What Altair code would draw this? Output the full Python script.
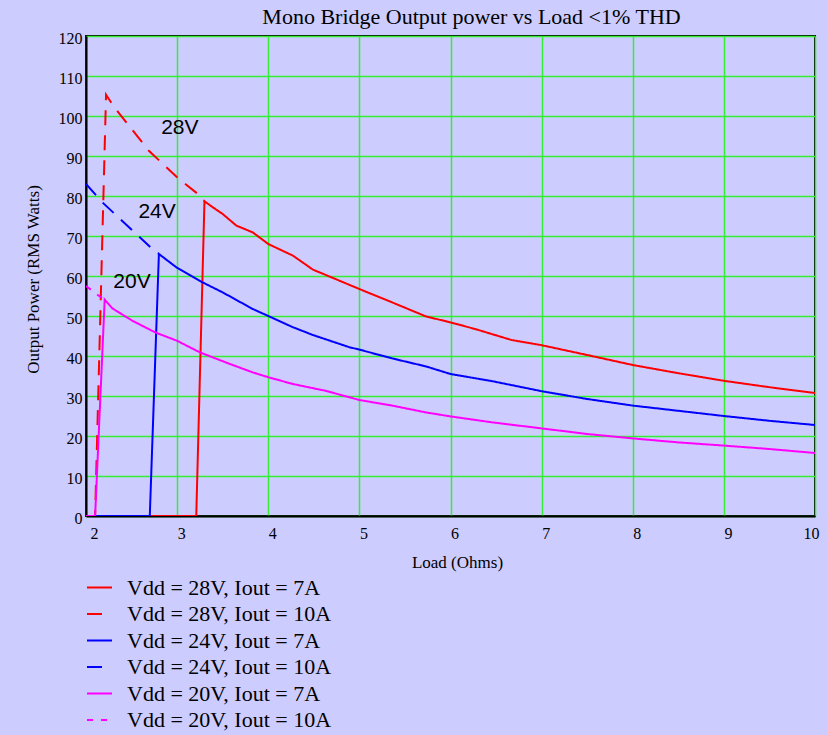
import altair as alt
import pandas as pd
import jinja2

# ---------------- data ----------------
series = [
    "Vdd = 28V, Iout = 7A",
    "Vdd = 28V, Iout = 10A",
    "Vdd = 24V, Iout = 7A",
    "Vdd = 24V, Iout = 10A",
    "Vdd = 20V, Iout = 7A",
    "Vdd = 20V, Iout = 10A",
]
colors = ["#ff0000", "#ff0000", "#0000ff", "#0000ff", "#ff00ff", "#ff00ff"]
dashes = [[1, 0], [15, 10], [1, 0], [15, 10], [1, 0], [6, 8]]

v28_7_x = [2.0, 3.21, 3.30, 3.39, 3.50, 3.65, 3.83, 4.0, 4.27, 4.49, 5.0, 5.36, 5.73, 6.0, 6.27, 6.67, 7.0, 7.5, 8.0, 8.5, 9.0, 9.5, 10.0]
v28_7_y = [0, 0, 78.7, 77.2, 75.5, 72.6, 70.9, 68.0, 65.1, 61.6, 56.75, 53.4, 49.9, 48.4, 46.75, 44.0, 42.7, 40.25, 37.75, 35.7, 33.8, 32.2, 30.75]

v28_10_x = [2.0, 2.10, 2.22, 2.31, 2.69, 3.02, 3.25, 3.30]
v28_10_y = [0, 0, 105.3, 102.2, 91.3, 84.25, 80.1, 78.7]

v24_7_x = [2.0, 2.70, 2.80, 2.99, 3.28, 3.50, 3.83, 4.0, 4.27, 4.49, 4.89, 5.0, 5.36, 5.73, 6.0, 6.46, 7.0, 7.5, 8.0, 8.5, 9.0, 9.5, 10.0]
v24_7_y = [0, 0, 65.5, 62.2, 58.4, 55.9, 51.75, 50.0, 47.2, 45.25, 42.2, 41.6, 39.4, 37.4, 35.5, 33.7, 31.2, 29.25, 27.6, 26.3, 25.0, 23.8, 22.75]

v24_10_x = [2.0, 2.18, 2.75, 2.80]
v24_10_y = [83.0, 78.4, 66.3, 65.5]

v20_7_x = [2.0, 2.10, 2.205, 2.29, 2.51, 2.76, 3.0, 3.25, 3.58, 3.83, 4.0, 4.27, 4.63, 5.0, 5.36, 5.73, 6.0, 6.46, 7.0, 7.5, 8.0, 8.5, 9.0, 9.5, 10.0]
v20_7_y = [0, 0, 54.1, 51.9, 48.8, 45.9, 43.8, 40.9, 38.0, 35.9, 34.7, 33.0, 31.3, 29.0, 27.6, 25.9, 24.9, 23.4, 21.9, 20.5, 19.4, 18.4, 17.6, 16.75, 15.75]

v20_10_x = [2.0, 2.18, 2.205]
v20_10_y = [57.5, 54.4, 54.1]

ann_labels = ["28V", "24V", "20V"]
ann_x = [3.03, 2.78, 2.505]
ann_y = [97.0, 76.1, 58.5]

x_ticks = [2, 3, 4, 5, 6, 7, 8, 9, 10]
y_ticks = [0, 10, 20, 30, 40, 50, 60, 70, 80, 90, 100, 110, 120]

# ---------------- table ----------------
rows = []
for name, xs, ys in [
    (series[0], v28_7_x, v28_7_y),
    (series[1], v28_10_x, v28_10_y),
    (series[2], v24_7_x, v24_7_y),
    (series[3], v24_10_x, v24_10_y),
    (series[4], v20_7_x, v20_7_y),
    (series[5], v20_10_x, v20_10_y),
]:
    for i, (x, y) in enumerate(zip(xs, ys)):
        rows.append({"series": name, "load": x, "power": y, "idx": i})
df = pd.DataFrame(rows)
ann_df = pd.DataFrame({"label": ann_labels, "load": ann_x, "power": ann_y})

SERIF = "Liberation Serif"
GRID = "#33ee33"

legend = alt.Legend(
    title=None,
    orient="none",
    legendX=0,
    legendY=538,
    symbolType="stroke",
    symbolSize=625,
    symbolStrokeWidth=2,
    labelFont=SERIF,
    labelFontSize=22,
    labelColor="black",
    labelOffset=14,
    labelLimit=0,
    rowPadding=1.5,
    padding=0,
)

xscale = alt.Scale(domain=[2, 10], nice=False, zero=False)
yscale = alt.Scale(domain=[0, 120], nice=False)

xaxis = alt.Axis(
    values=x_ticks,
    format="d",
    title="Load (Ohms)",
    labelFlush=True,
    labelOffset=4,
    labelPadding=9,
    labelOverlap=False,
    titleX=371,
    titleY=46,
    titleBaseline="middle",
)
yaxis = alt.Axis(
    values=y_ticks,
    format="d",
    title="Output Power (RMS Watts)",
    labelPadding=4,
    labelOffset=2,
    labelOverlap=False,
    titleX=-53,
    titleY=243,
    titleAngle=-90,
    titleBaseline="middle",
)

lines = alt.Chart(df).mark_line(strokeWidth=2, clip=True).encode(
    x=alt.X("load:Q", scale=xscale, axis=xaxis),
    y=alt.Y("power:Q", scale=yscale, axis=yaxis),
    color=alt.Color("series:N", scale=alt.Scale(domain=series, range=colors), legend=legend),
    strokeDash=alt.StrokeDash("series:N", scale=alt.Scale(domain=series, range=dashes), legend=legend),
    order="idx:Q",
)

ann = alt.Chart(ann_df).mark_text(
    font="Liberation Sans", fontSize=21, color="black", align="center", baseline="middle"
).encode(
    x=alt.X("load:Q", scale=xscale, axis=xaxis),
    y=alt.Y("power:Q", scale=yscale, axis=yaxis),
    text="label:N",
)

chart = (
    alt.layer(lines, ann)
    .properties(
        width=729,
        height=480,
        title=alt.Title(
            "Mono Bridge Output power vs Load <1% THD",
            font=SERIF,
            fontSize=22,
            fontWeight="normal",
            color="black",
            dx=21,
            offset=1,
        ),
        autosize=alt.AutoSizeParams(type="none"),
        padding={"left": 78, "top": 36, "right": 7, "bottom": 219},
        background="#ccccff",
    )
    .configure_view(stroke="black", strokeWidth=2, fill="#ccccff")
    .configure_axis(
        labelFont=SERIF,
        labelFontSize=16,
        labelColor="black",
        titleFont=SERIF,
        titleFontSize=17,
        titleFontWeight="normal",
        titleColor="black",
        ticks=False,
        tickSize=0,
        domain=True,
        domainColor="black",
        domainWidth=2,
        grid=True,
        gridColor=GRID,
        gridWidth=1.5,
        gridOpacity=1,
    )
)

TEMPLATE = jinja2.Template("""<!DOCTYPE html>
<html>
<head>
  <meta charset="utf-8">
  <style>
    html, body { background: #ccccff; }
    body { margin: 0 0 0 8px; }
    #{{ output_div }}.vega-embed { width: 100%; display: flex; }
  </style>
  <script type="text/javascript" src="{{ base_url }}/vega@{{ vega_version }}"></script>
  <script type="text/javascript" src="{{ base_url }}/vega-lite@{{ vegalite_version }}"></script>
  <script type="text/javascript" src="{{ base_url }}/vega-embed@{{ vegaembed_version }}"></script>
</head>
<body>
  <div id="{{ output_div }}"></div>
  <script type="text/javascript">
    vegaEmbed("#{{ output_div }}", {{ spec }}, {{ embed_options }}).catch(function (err) {
      document.getElementById("{{ output_div }}").innerHTML = "<pre>" + err + "</pre>";
    });
  </script>
</body>
</html>
""")

chart.save("out.html", embed_options={"renderer": "svg", "actions": False}, template=TEMPLATE)
